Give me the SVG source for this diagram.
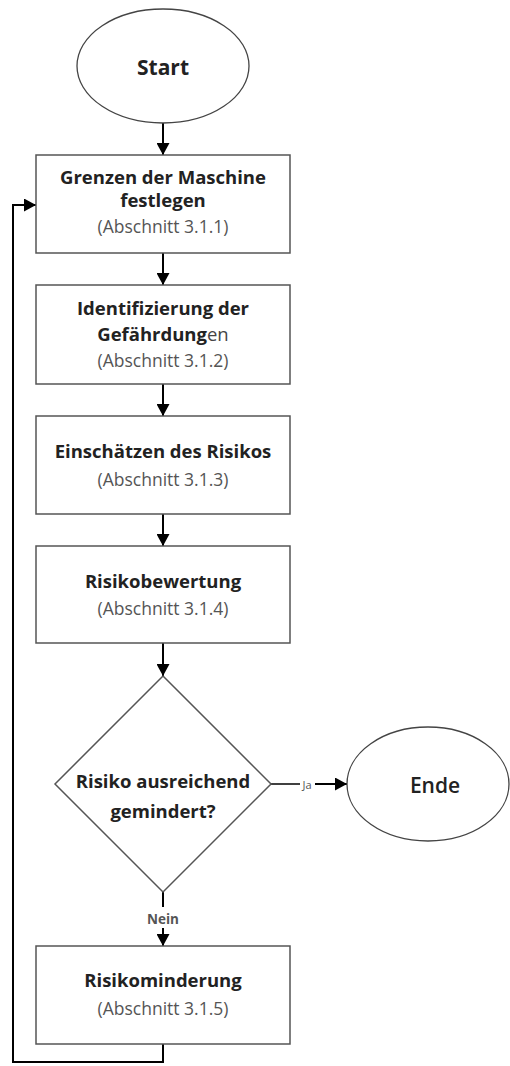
<svg xmlns="http://www.w3.org/2000/svg" width="510" height="1066" viewBox="0 0 510 1066">
<style>
.box{fill:#fff;stroke:#555;stroke-width:1.5}
.term{fill:#fff;stroke:#444;stroke-width:1.3}
.t{font-family:"Open Sans","Liberation Sans",sans-serif;font-weight:bold;font-size:18.5px;fill:#222;text-anchor:middle}
.s{font-family:"Open Sans","Liberation Sans",sans-serif;font-size:17.5px;fill:#555;text-anchor:middle}
.big{font-family:"Open Sans","Liberation Sans",sans-serif;font-weight:bold;font-size:21px;fill:#222;text-anchor:middle}
.lbl{font-family:"Open Sans","Liberation Sans",sans-serif;font-size:11.5px;fill:#555;text-anchor:middle}
.c{fill:none;stroke:#000;stroke-width:2}
</style>
<defs>
<marker id="ah" markerUnits="userSpaceOnUse" markerWidth="13" markerHeight="13" refX="12" refY="6.5" orient="auto">
<path d="M0,0 L12,6.5 L0,13 z" fill="#000"/>
</marker>
</defs>
<g id="connectors">
<line class="c" x1="163" y1="123" x2="163" y2="155" marker-end="url(#ah)"/>
<line class="c" x1="163" y1="253" x2="163" y2="285" marker-end="url(#ah)"/>
<line class="c" x1="163" y1="384" x2="163" y2="416" marker-end="url(#ah)"/>
<line class="c" x1="163" y1="514" x2="163" y2="546" marker-end="url(#ah)"/>
<line class="c" x1="163" y1="643" x2="163" y2="676" marker-end="url(#ah)"/>
<line class="c" x1="271" y1="784" x2="300" y2="784" style="stroke-width:1.5"/>
<line class="c" x1="315" y1="784" x2="347" y2="784" marker-end="url(#ah)"/>
<text class="lbl" x="307" y="788.5" style="font-size:11px">Ja</text>
<line class="c" x1="163" y1="892" x2="163" y2="907"/>
<text class="lbl" x="163" y="923.5" style="font-weight:bold;font-size:13.5px">Nein</text>
<line class="c" x1="163" y1="928" x2="163" y2="946" marker-end="url(#ah)"/>
<polyline class="c" points="163,1044 163,1062 13,1062 13,205 36,205" marker-end="url(#ah)"/>
</g>
<g id="start">
<ellipse class="term" cx="163" cy="66" rx="86" ry="57"/>
<text class="big" x="163" y="75">Start</text>
</g>
<g id="box1">
<rect class="box" x="36" y="155" width="254" height="98"/>
<text class="t" x="163" y="184">Grenzen der Maschine</text>
<text class="t" x="163" y="207">festlegen</text>
<text class="s" x="163" y="233">(Abschnitt 3.1.1)</text>
</g>
<g id="box2">
<rect class="box" x="36" y="285" width="254" height="99"/>
<text class="t" x="163" y="315">Identifizierung der</text>
<text class="t" x="163" y="341">Gefährdung<tspan style="font-weight:normal;fill:#444">en</tspan></text>
<text class="s" x="163" y="367">(Abschnitt 3.1.2)</text>
</g>
<g id="box3">
<rect class="box" x="36" y="416" width="254" height="98"/>
<text class="t" x="163" y="458">Einschätzen des Risikos</text>
<text class="s" x="163" y="486">(Abschnitt 3.1.3)</text>
</g>
<g id="box4">
<rect class="box" x="36" y="546" width="254" height="97"/>
<text class="t" x="163" y="588">Risikobewertung</text>
<text class="s" x="163" y="615">(Abschnitt 3.1.4)</text>
</g>
<g id="decision">
<polygon class="box" points="163,676 271,784 163,892 55,784"/>
<text class="t" x="163" y="788">Risiko ausreichend</text>
<text class="t" x="163" y="818">gemindert?</text>
</g>
<g id="ende">
<ellipse class="term" cx="428" cy="784" rx="81" ry="57"/>
<text class="big" x="435" y="793" style="font-weight:600">Ende</text>
</g>
<g id="box5">
<rect class="box" x="36" y="946" width="254" height="98"/>
<text class="t" x="163" y="987">Risikominderung</text>
<text class="s" x="163" y="1015">(Abschnitt 3.1.5)</text>
</g>
</svg>
